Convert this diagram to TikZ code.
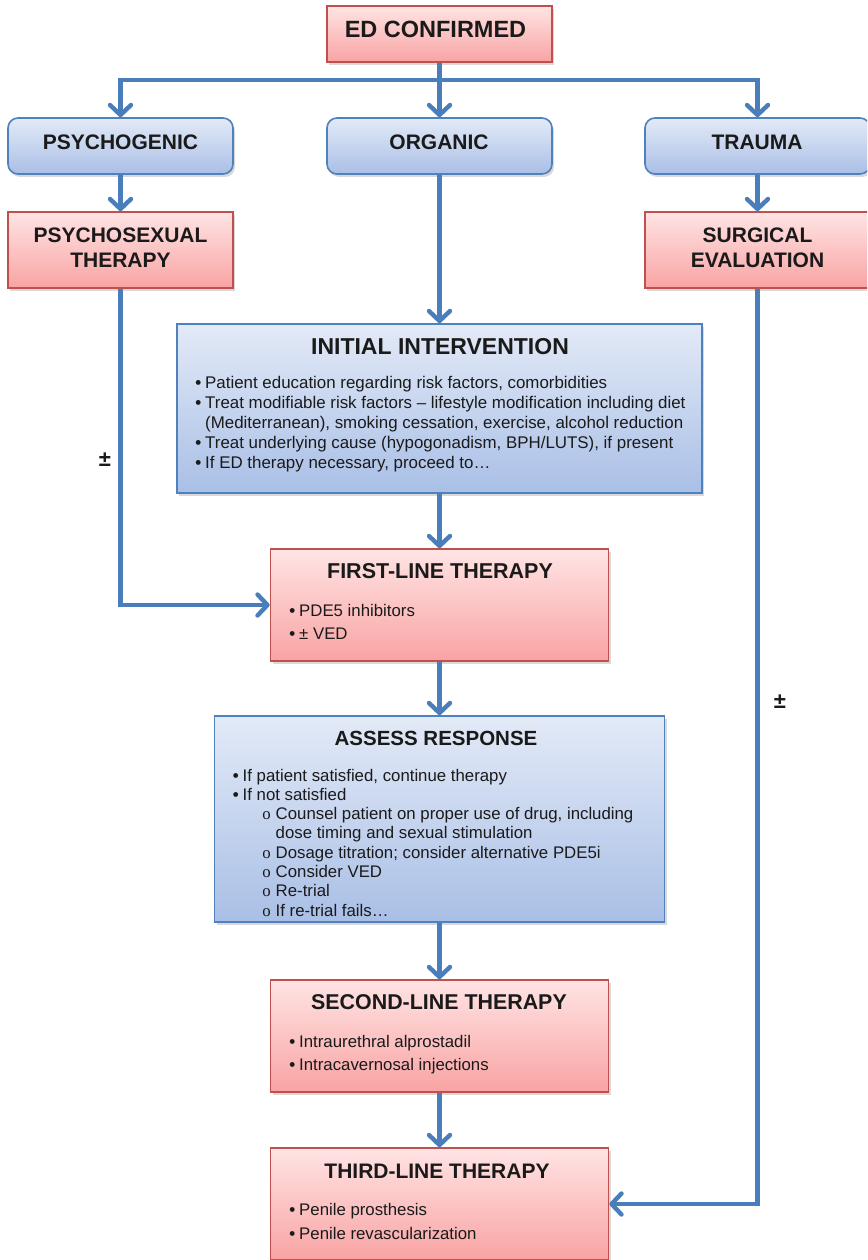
\documentclass[tikz,border=0pt]{standalone}
\usepackage{fontspec}
\setmainfont{Liberation Sans}
\newfontfamily\serifo{Liberation Serif}
\usetikzlibrary{arrows.meta,shadows}
\definecolor{lineblue}{HTML}{4A7EBB}
\definecolor{redtop}{HTML}{FFE4E4}
\definecolor{redbot}{HTML}{F9A3A3}
\definecolor{redborder}{HTML}{C0504D}
\definecolor{bluetop}{HTML}{E3EAF7}
\definecolor{bluebot}{HTML}{A9BFE6}
\definecolor{blueborder}{HTML}{4F81BD}
\definecolor{txt}{HTML}{1A1A1A}
\newcommand\bl{\leavevmode\llap{{\bfseries •}\hspace{4pt}}}
\newcommand\sbl{\par\hangindent=33pt\hangafter=0\leavevmode\llap{{\serifo o}\hspace{5pt}}}
\begin{document}
\begin{tikzpicture}[x=1pt,y=-1pt,
  boxbase/.style={line width=1.6pt, inner sep=0pt, drop shadow={shadow xshift=2pt,shadow yshift=-3pt,opacity=0.3}},
  redbox/.style={boxbase, draw=redborder, top color=redtop, bottom color=redbot},
  bluebox/.style={boxbase, draw=blueborder, top color=bluetop, bottom color=bluebot},
  roundbox/.style={bluebox, rounded corners=10pt},
  ttl/.style={anchor=base, inner sep=0pt, text=txt, font=\bfseries\fontsize{21}{25.4}\selectfont},
  body/.style={anchor=base west, inner sep=0pt, text=txt},
  pm/.style={inner sep=0pt, text=txt, font=\bfseries\fontsize{22}{24}\selectfont},
  conn/.style={draw=lineblue, line width=4.4pt, -{Straight Barb[length=10pt,width=21pt,round]}}
]
\useasboundingbox (0,0) rectangle (867,1260);
\clip (0,0) rectangle (867,1260);
% boxes
\node[redbox, minimum width=225pt, minimum height=56pt] (ed) at (439.5,34) {};
\node[roundbox, minimum width=225pt, minimum height=56pt] (psy) at (120.5,146) {};
\node[roundbox, minimum width=225pt, minimum height=56pt] (org) at (439.5,146) {};
\node[roundbox, minimum width=225pt, minimum height=56pt] (tra) at (757.5,146) {};
\node[redbox, minimum width=225pt, minimum height=76pt] (psx) at (120.5,250) {};
\node[redbox, minimum width=225pt, minimum height=76pt] (sur) at (757.5,250) {};
\node[bluebox, minimum width=525pt, minimum height=169pt] (ii) at (439.5,408.5) {};
\node[redbox, minimum width=338pt, minimum height=112pt] (fl) at (439.5,605) {};
\node[bluebox, minimum width=450pt, minimum height=206pt] (ar) at (439.5,819) {};
\node[redbox, minimum width=338pt, minimum height=112pt] (sl) at (439.5,1036) {};
\node[redbox, minimum width=338pt, minimum height=112pt] (tl) at (439.5,1204) {};
% titles
\node[ttl, font=\bfseries\fontsize{23.5}{26}\selectfont] (edt) at (435.5,37.3) {ED CONFIRMED};
\node[ttl] (psyt) at (120.5,150) {PSYCHOGENIC};
\node[ttl] (orgt) at (439,150) {ORGANIC};
\node[ttl] (trat) at (757,150) {TRAUMA};
\node[ttl] (psxt) at (120.5,242.3) {\parbox[t]{220pt}{\centering PSYCHOSEXUAL\\THERAPY}};
\node[ttl] (surt) at (757.5,242.3) {\parbox[t]{220pt}{\centering SURGICAL\\EVALUATION}};
\node[ttl, font=\bfseries\fontsize{23}{26}\selectfont] (iit) at (440,354) {INITIAL INTERVENTION};
\node[ttl, font=\bfseries\fontsize{21.5}{25}\selectfont] (flt) at (440,578.3) {FIRST-LINE THERAPY};
\node[ttl, font=\bfseries\fontsize{20.5}{25}\selectfont] (art) at (436,745.7) {ASSESS RESPONSE};
\node[ttl, font=\bfseries\fontsize{21.4}{25}\selectfont] (slt) at (439,1009) {SECOND-LINE THERAPY};
\node[ttl] (tlt) at (437,1178.3) {THIRD-LINE THERAPY};
% bodies
\node[body] (iib) at (205,388) {\parbox[t]{500pt}{\fontsize{16.9}{20}\selectfont\raggedright
\bl Patient education regarding risk factors, comorbidities\par
\bl Treat modifiable risk factors – lifestyle modification including diet\newline(Mediterranean), smoking cessation, exercise, alcohol reduction\par
\bl Treat underlying cause (hypogonadism, BPH/LUTS), if present\par
\bl If ED therapy necessary, proceed to…}};
\node[body] (flb) at (299,616) {\parbox[t]{300pt}{\fontsize{16.8}{23.3}\selectfont\raggedright
\bl PDE5 inhibitors\par
\bl ± VED}};
\node[body] (arb) at (242.5,781) {\parbox[t]{420pt}{\fontsize{16.8}{19.3}\selectfont\raggedright
\bl If patient satisfied, continue therapy\par
\bl If not satisfied
\sbl Counsel patient on proper use of drug, including\newline dose timing and sexual stimulation
\sbl Dosage titration; consider alternative PDE5i
\sbl Consider VED
\sbl Re-trial
\sbl If re-trial fails…}};
\node[body] (slb) at (299,1047.3) {\parbox[t]{300pt}{\fontsize{16.8}{23.4}\selectfont\raggedright
\bl Intraurethral alprostadil\par
\bl Intracavernosal injections}};
\node[body] (tlb) at (299,1215.7) {\parbox[t]{300pt}{\fontsize{16.8}{23.6}\selectfont\raggedright
\bl Penile prosthesis\par
\bl Penile revascularization}};
% plus-minus labels
\node[pm] (pm1) at (105,460) {±};
\node[pm] (pm2) at (780,702) {±};
% connectors
\coordinate (split) at (ed.south |- 0,80);
\draw[conn] (ed.south) -- (org.north);
\draw[conn] (split) -| (psy.north);
\draw[conn] (split) -| (tra.north);
\draw[conn] (psy.south) -- (psx.north);
\draw[conn] (tra.south) -- (sur.north);
\draw[conn] (org.south) -- (ii.north);
\draw[conn] (ii.south) -- (fl.north);
\draw[conn] (psx.south) |- (fl.west);
\draw[conn] (fl.south) -- (ar.north);
\draw[conn] (ar.south) -- (sl.north);
\draw[conn] (sl.south) -- (tl.north);
\draw[conn] (sur.south) |- (tl.east);
\end{tikzpicture}
\end{document}
